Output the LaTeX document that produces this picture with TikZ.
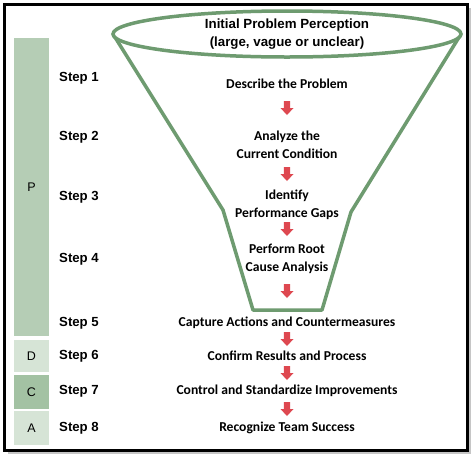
\documentclass[tikz,border=0pt]{standalone}
\usepackage{fontspec}
\setmainfont{Carlito}
\newfontfamily\arialf{Liberation Sans}
\definecolor{funnelg}{RGB}{110,155,112}
\definecolor{pgreen}{RGB}{181,205,181}
\definecolor{lgreen}{RGB}{214,228,214}
\definecolor{cgreen}{RGB}{163,194,163}
\definecolor{arrred}{RGB}{222,72,80}
\tikzset{
  steplbl/.style={anchor=west, inner sep=0pt, font=\arialf\bfseries\fontsize{13.2}{15}\selectfont},
  phasebox/.style={inner sep=0pt, font=\arialf\fontsize{12.5}{14}\selectfont},
  stagetxt/.style={inner sep=0pt, align=center, font=\bfseries\fontsize{13.6}{18}\selectfont},
  dnarrow/.pic={\fill[arrred] (-3.2,-7) -- (3.2,-7) -- (3.2,0) -- (6.5,0) -- (0,7) -- (-6.5,0) -- (-3.2,0) -- cycle;},
}
\begin{document}
\begin{tikzpicture}[x=1pt,y=-1pt]
\useasboundingbox (0,0) rectangle (474,456);
% frame with shadow
\fill[gray!45] (8,8) rectangle (471,454);
\fill[white] (4,4) rectangle (467,450);
\draw[line width=3pt] (4,4) rectangle (467,450);
% phase bars
\node[phasebox, fill=pgreen, minimum width=35pt, minimum height=298pt] (P) at (31.5,187) {P};
\node[phasebox, fill=lgreen, minimum width=35pt, minimum height=32pt] (D) at (31.5,356) {D};
\node[phasebox, fill=cgreen, minimum width=35pt, minimum height=34pt] (C) at (31.5,392) {C};
\node[phasebox, fill=lgreen, minimum width=35pt, minimum height=34pt] (A) at (31.5,428) {A};
% step labels
\node[steplbl] (s1) at (59,78) {Step 1};
\node[steplbl] (s2) at (59,137) {Step 2};
\node[steplbl] (s3) at (59,197) {Step 3};
\node[steplbl] (s4) at (59,259) {Step 4};
\node[steplbl] (s5) at (59,323) {Step 5};
\node[steplbl] (s6) at (59,356) {Step 6};
\node[steplbl] (s7) at (59,391) {Step 7};
\node[steplbl] (s8) at (59,428) {Step 8};
% funnel
\draw[funnelg, line width=3.5pt, line join=round] (113,34) -- (223,210) -- (253,310) -- (322,310) -- (351,212) -- (461,34);
\draw[funnelg, line width=3.5pt, fill=white] (287,34) ellipse [x radius=174, y radius=23];
% texts
\node[inner sep=0pt, align=center, font=\arialf\bfseries\fontsize{13.3}{18}\selectfont] (t0) at (287,34) {Initial Problem Perception\\(large, vague or unclear)};
\node[stagetxt] (t1) at (287,84) {Describe the Problem};
\node[stagetxt] (t2) at (287,145) {Analyze the\\Current Condition};
\node[stagetxt] (t3) at (287,204.5) {Identify\\Performance Gaps};
\node[stagetxt] (t4) at (287,259) {Perform Root\\Cause Analysis};
\node[stagetxt] (t5) at (287,323) {Capture Actions and Countermeasures};
\node[stagetxt] (t6) at (287,356) {Confirm Results and Process};
\node[stagetxt] (t7) at (287,391) {Control and Standardize Improvements};
\node[stagetxt] (t8) at (287,428) {Recognize Team Success};
% arrows
\pic (a1) at (287,108) {dnarrow};
\pic (a2) at (287,174) {dnarrow};
\pic (a3) at (287,229) {dnarrow};
\pic (a4) at (287,291) {dnarrow};
\pic (a5) at (287,339) {dnarrow};
\pic (a6) at (287,373) {dnarrow};
\pic (a7) at (287,409) {dnarrow};
\end{tikzpicture}
\end{document}
